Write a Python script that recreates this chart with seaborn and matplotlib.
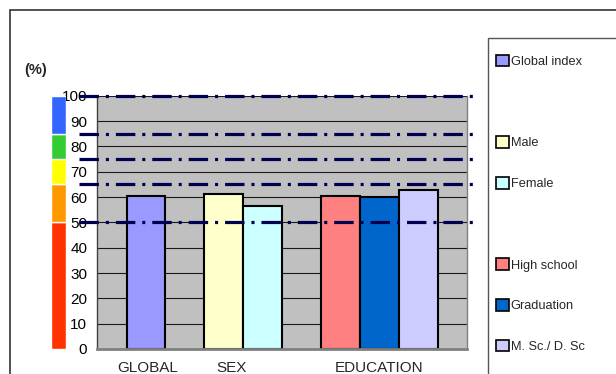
import pandas as pd
import matplotlib
matplotlib.use("Agg")
import matplotlib.pyplot as plt
from matplotlib.patches import Patch, Rectangle
import seaborn as sns

# bar data (percent)
series = ["Global index", "Male", "Female", "High school", "Graduation", "M. Sc./ D. Sc"]
values = [60.5, 61.2, 56.6, 60.5, 59.9, 62.8]
colors = ["#9999FF", "#FFFFCC", "#CCFFFF", "#FF8080", "#0066CC", "#CCCCFF"]

# empty slots separate the groups
slot_order = ["Global index", "", "Male", "Female", " ", "High school", "Graduation", "M. Sc./ D. Sc"]
group_labels = ["GLOBAL", "SEX", "EDUCATION"]
group_pos = [0.05, 2.2, 6.0]

# classification levels (dash-dot lines) and colour bands on the left
levels = [100, 85, 75, 65, 50]
band_lo = [0, 50, 65, 75, 85]
band_hi = [50, 65, 75, 85, 100]
band_colors = ["#FF3300", "#FF9900", "#FFFF00", "#33CC33", "#3366FF"]

yticks = list(range(0, 101, 10))

sns.set_style("white")
plt.rcParams["font.family"] = ["Liberation Sans", "DejaVu Sans"]
plt.rcParams["lines.scale_dashes"] = False

df = pd.DataFrame({"serie": series, "value": values})
palette = dict(zip(series, colors))

fig = plt.figure(figsize=(6.16, 3.74), dpi=100)
W, H = 616.0, 374.0

# outer chart frame
fig.patches.append(Rectangle((10 / W, -0.1), 1.0, 1 - 10 / H + 0.1, transform=fig.transFigure,
                             fill=False, ec="#333333", lw=1.2))
# legend frame
fig.patches.append(Rectangle((488 / W, -0.1), 1.0, 1 - 38 / H + 0.1, transform=fig.transFigure,
                             fill=False, ec="#555555", lw=1.0))

ax = fig.add_axes([97 / W, 25 / H, 370 / W, 253.3 / H])
ax.set_facecolor("#C0C0C0")
ax.set_axisbelow(True)

sns.barplot(data=df, x="serie", y="value", hue="serie", order=slot_order, hue_order=series,
            palette=palette, width=1.0, edgecolor="black", linewidth=1.5,
            saturation=1, legend=False, ax=ax, zorder=2)

ax.set_xlim(-1.26, 8.25)
ax.set_ylim(0, 100)
ax.set_yticks(yticks)
ax.yaxis.grid(True, color="#1a1a1a", lw=0.8)
ax.xaxis.grid(False)
ax.tick_params(axis="y", length=0, pad=7, labelsize=11, labelcolor="black")
ax.set_xticks(group_pos)
ax.set_xticklabels(group_labels)
ax.tick_params(axis="x", which="major", length=0, pad=9, labelsize=11)
ax.set_xticks([-1.26, 8.25], minor=True)
ax.tick_params(axis="x", which="minor", length=4, width=1, color="#555555", direction="out")
ax.set_xlabel("")
ax.set_ylabel("")

for side in ["top"]:
    ax.spines[side].set_visible(False)
ax.spines["left"].set_color("#404040")
ax.spines["left"].set_linewidth(1.0)
ax.spines["bottom"].set_color("#808080")
ax.spines["bottom"].set_linewidth(2.0)
ax.spines["right"].set_color("#808080")
ax.spines["right"].set_linewidth(1.0)

for lv in levels:
    ax.axhline(lv, xmin=-0.05, xmax=1.016, color="#000050", lw=2.3,
               linestyle=(0, (14, 5, 2.2, 5)), clip_on=False, zorder=5)

# colour band strip
cax = fig.add_axes([51 / W, 25 / H, 15 / W, 253.3 / H])
cax.bar([0] * len(band_lo), [h - l for l, h in zip(band_lo, band_hi)], bottom=band_lo,
        width=1.0, color=band_colors, edgecolor="white", linewidth=1.0)
cax.set_xlim(-0.5, 0.5)
cax.set_ylim(0, 100)
cax.axis("off")

fig.text(36 / W, 1 - 70 / H, "(%)", ha="center", va="center", fontsize=10.5, fontweight="bold")

# legend with blank rows to keep the group spacing
handles = []
labels = []
for name in slot_order:
    if name.strip() == "":
        handles.append(Patch(facecolor="none", edgecolor="none"))
        labels.append("")
    else:
        handles.append(Patch(facecolor=palette[name], edgecolor="black", linewidth=1.2))
        labels.append(name)
fig.legend(handles, labels, loc="upper left", bbox_to_anchor=(496 / W, 1 - 55 / H),
           frameon=False, fontsize=9.2, handlelength=1.0, handleheight=1.0,
           handletextpad=0.15, labelspacing=2.16, borderaxespad=0, borderpad=0)

fig.savefig("out.png", dpi=100)
